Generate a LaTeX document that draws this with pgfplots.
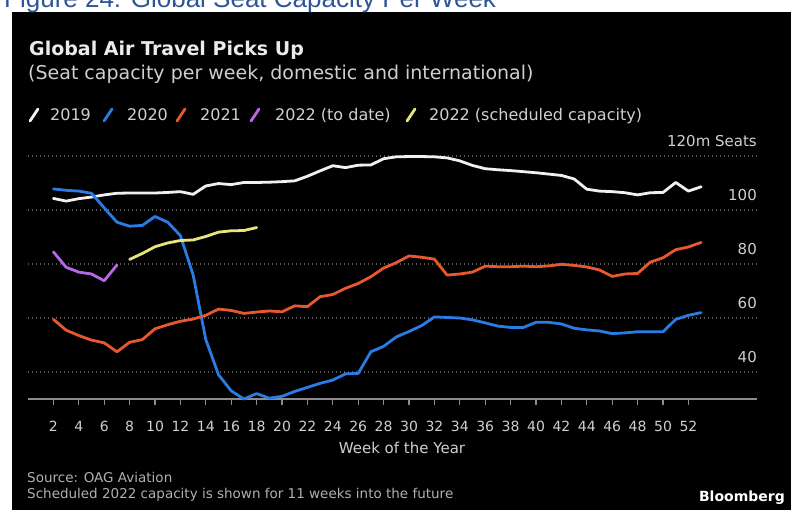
\documentclass[border=0pt]{standalone}
\usepackage{pgfplots}
\pgfplotsset{compat=1.18}
\usepackage{fontspec}
\setmainfont{DejaVu Sans}
\newfontfamily\figfont{Liberation Sans}
\definecolor{c2019}{HTML}{F0F0F0}
\definecolor{c2020}{HTML}{2A7BE4}
\definecolor{c2021}{HTML}{E8582F}
\definecolor{c22a}{HTML}{B868E6}
\definecolor{c22b}{HTML}{E6E47A}
\definecolor{txt}{HTML}{CFCFCF}
\definecolor{gridc}{HTML}{5A5A5A}
\definecolor{axisc}{HTML}{8C8C8C}
\definecolor{figblue}{HTML}{2F5597}
\begin{document}
\begin{tikzpicture}[x=1pt,y=1pt]
\useasboundingbox (0,0) rectangle (791,-510);
\fill[white] (0,0) rectangle (791,-510);
\fill[black] (12,-12) rectangle (791,-510);
\node[anchor=base west, inner sep=0, text=figblue, font=\figfont\fontsize{26pt}{28pt}\selectfont] at (4,-8) {Figure 24: Global Seat Capacity Per Week};
\node[anchor=base west, inner sep=0, text=white!92!black, font=\bfseries\fontsize{19pt}{22pt}\selectfont] at (29,-56) {Global Air Travel Picks Up};
\node[anchor=base west, inner sep=0, text=txt, font=\fontsize{19pt}{22pt}\selectfont] at (28,-80) {(Seat capacity per week, domestic and international)};
% legend
\foreach \sx/\col in {30/c2019,104/c2020,177/c2021,251/c22a,407/c22b}{
  \draw[\col, line width=2.8pt, line cap=round] (\sx,-121) -- (\sx+8,-109);
}
\foreach \tx/\lab in {50/2019,127/2020,200/2021,275/2022 (to date),429/2022 (scheduled capacity)}{
  \node[anchor=base west, inner sep=0, text=txt, font=\fontsize{16pt}{19pt}\selectfont] at (\tx,-121) {\lab};
}
\begin{axis}[
  at={(28pt,-399pt)}, anchor=south west, scale only axis,
  width=729pt, height=248.4pt,
  xmin=0, xmax=57.4, ymin=30, ymax=122,
  clip=false,
  axis x line*=bottom, axis y line*=right,
  y axis line style={draw=none},
  x axis line style={axisc, line width=1.5pt, -},
  ytick={40,60,80,100,120}, yticklabels={},
  ytick style={draw=none},
  ymajorgrids,
  grid style={gridc, line width=1.3pt, dash pattern=on 1.3pt off 2.7pt},
  xtick={2,4,...,52},
  xtick style={axisc, line width=1.2pt},
  tick align=outside, major tick length=6pt,
  /pgf/number format/assume math mode=true,
  xticklabel style={text=txt, font=\fontsize{14pt}{16pt}\selectfont, yshift=-13pt},
]
\addplot[c2019, line width=2.8pt, line join=round, line cap=round] coordinates {
(2,104.3)(3,103.3)(4,104.2)(5,104.8)(6,105.6)(7,106.2)(8,106.3)(9,106.3)(10,106.3)(11,106.5)(12,106.8)(13,105.8)(14,108.9)(15,109.8)(16,109.4)(17,110.2)(18,110.2)(19,110.3)(20,110.5)(21,110.8)(22,112.5)(23,114.5)(24,116.4)(25,115.7)(26,116.6)(27,116.7)(28,119)(29,119.7)(30,119.8)(31,119.8)(32,119.7)(33,119.3)(34,118.2)(35,116.5)(36,115.3)(37,114.9)(38,114.6)(39,114.2)(40,113.8)(41,113.3)(42,112.8)(43,111.5)(44,107.7)(45,107)(46,106.8)(47,106.4)(48,105.6)(49,106.4)(50,106.5)(51,110.2)(52,107)(53,108.6)};
\addplot[c2020, line width=2.8pt, line join=round, line cap=round] coordinates {
(2,107.8)(3,107.3)(4,107)(5,106.2)(6,100.8)(7,95.5)(8,94)(9,94.3)(10,97.6)(11,95.5)(12,90.5)(13,76)(14,52)(15,39)(16,33)(17,30)(18,32)(19,30.3)(20,31)(21,32.8)(22,34.3)(23,35.8)(24,37)(25,39.3)(26,39.5)(27,47.5)(28,49.5)(29,53)(30,55)(31,57.2)(32,60.4)(33,60.2)(34,60)(35,59.3)(36,58.2)(37,57)(38,56.5)(39,56.5)(40,58.4)(41,58.4)(42,57.8)(43,56.2)(44,55.6)(45,55.2)(46,54.2)(47,54.5)(48,54.9)(49,54.9)(50,54.9)(51,59.5)(52,61)(53,62)};
\addplot[c2021, line width=2.8pt, line join=round, line cap=round] coordinates {
(2,59.5)(3,55.5)(4,53.5)(5,51.8)(6,50.8)(7,47.5)(8,51)(9,52)(10,56)(11,57.5)(12,58.8)(13,59.6)(14,61)(15,63.3)(16,62.8)(17,61.7)(18,62.2)(19,62.6)(20,62.3)(21,64.5)(22,64.2)(23,67.9)(24,68.7)(25,71)(26,72.8)(27,75.3)(28,78.5)(29,80.5)(30,83)(31,82.5)(32,81.8)(33,75.9)(34,76.3)(35,77)(36,79.2)(37,79)(38,79)(39,79.2)(40,79)(41,79.3)(42,79.9)(43,79.5)(44,78.9)(45,77.8)(46,75.4)(47,76.3)(48,76.5)(49,80.7)(50,82.3)(51,85.3)(52,86.3)(53,88)};
\addplot[c22a, line width=2.8pt, line join=round, line cap=round] coordinates {
(2,84.5)(3,78.8)(4,77)(5,76.3)(6,73.8)(7,79.6)};
\addplot[c22b, line width=2.8pt, line join=round, line cap=round] coordinates {
(8,81.7)(9,83.9)(10,86.4)(11,87.8)(12,88.7)(13,88.9)(14,90.2)(15,91.8)(16,92.3)(17,92.4)(18,93.5)};
\foreach \v/\lab in {40/40,60/60,80/80,100/100,120/120m Seats}{
  \edef\tmp{\noexpand\node[anchor=base east, inner sep=0, text=txt, font=\noexpand\fontsize{15pt}{18pt}\noexpand\selectfont, yshift=10pt] at (axis cs:57.4,\v) {\lab};}
  \tmp
}
\end{axis}
\node[anchor=base, inner sep=0, text=txt, font=\fontsize{15pt}{18pt}\selectfont] at (402,-453) {Week of the Year};
\node[anchor=base west, inner sep=0, text=txt!85!black, font=\fontsize{13.5pt}{16pt}\selectfont] at (27,-482) {Source: OAG Aviation};
\node[anchor=base west, inner sep=0, text=txt!85!black, font=\fontsize{13.5pt}{16pt}\selectfont] at (27,-498) {Scheduled 2022 capacity is shown for 11 weeks into the future};
\node[anchor=base east, inner sep=0, text=white, font=\bfseries\fontsize{14pt}{16pt}\selectfont] at (785,-501) {Bloomberg};
\end{tikzpicture}
\end{document}
